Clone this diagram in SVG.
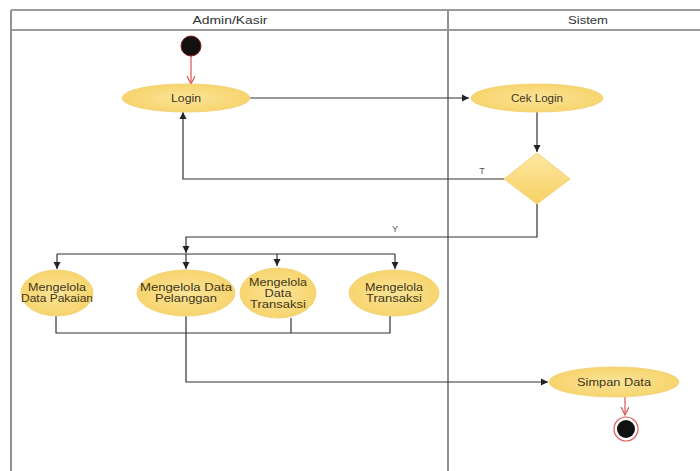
<svg xmlns="http://www.w3.org/2000/svg" width="700" height="471" viewBox="0 0 700 471">
<style>
.lane{fill:none;stroke:#222;stroke-width:1}
.hdr{fill:none;stroke:#9a9a9a;stroke-width:2}
.ht{font-family:"Liberation Sans",Arial,sans-serif;font-size:10px;fill:#333;text-anchor:middle}
.act{fill:url(#yg);stroke:#f3d47c;stroke-width:1}
.t{font-family:"Liberation Sans",Arial,sans-serif;font-size:10px;fill:#3f3618;text-anchor:middle}
.c{fill:none;stroke:#333;stroke-width:1.2}
.r{fill:none;stroke:#d9534f;stroke-width:1.2}
.lbl{font-family:"Liberation Sans",Arial,sans-serif;font-size:9px;fill:#555;text-anchor:middle}
</style>
<defs>
<radialGradient id="yg" cx="50%" cy="50%" r="60%">
<stop offset="0" stop-color="#fbe49a"/>
<stop offset="1" stop-color="#f6d164"/>
</radialGradient>
<linearGradient id="dg" x1="0" y1="0" x2="0" y2="1">
<stop offset="0" stop-color="#fde7a0"/>
<stop offset="1" stop-color="#f7d163"/>
</linearGradient>
<marker id="ab" markerWidth="8" markerHeight="8" refX="7" refY="4" orient="auto" markerUnits="userSpaceOnUse">
<path d="M0,0.5 L7,4 L0,7.5 Z" fill="#222"/>
</marker>
<marker id="ar" markerWidth="10" markerHeight="10" refX="8" refY="4" orient="auto" markerUnits="userSpaceOnUse">
<path d="M0,0 L8,4 L0,8" fill="none" stroke="#d9534f" stroke-width="1.2"/>
</marker>
</defs>
<rect width="700" height="471" fill="#fff"/>
<g id="lanes">
<line class="lane" x1="11" y1="10" x2="11" y2="471"/>
<line class="lane" x1="448" y1="10" x2="448" y2="471"/>
<line class="hdr" x1="11" y1="10" x2="700" y2="10"/>
<line class="hdr" x1="11" y1="30" x2="700" y2="30"/>
<text class="ht" x="230" y="24" textLength="75" lengthAdjust="spacingAndGlyphs">Admin/Kasir</text>
<text class="ht" x="588" y="24" textLength="40" lengthAdjust="spacingAndGlyphs">Sistem</text>
</g>
<g id="connectors">
<path class="r" d="M191,56 V84" marker-end="url(#ar)"/>
<path class="c" d="M250,98 H469" marker-end="url(#ab)"/>
<path class="c" d="M537,112 V152" marker-end="url(#ab)"/>
<path class="c" d="M504,179 H183 V112" marker-end="url(#ab)"/>
<text class="lbl" x="482" y="174">T</text>
<path class="c" d="M537,204 V237 H186 V253" marker-end="url(#ab)"/>
<text class="lbl" x="395" y="232">Y</text>
<path class="c" d="M57,254 H395"/>
<path class="c" d="M57,254 V269" marker-end="url(#ab)"/>
<path class="c" d="M186,254 V269" marker-end="url(#ab)"/>
<path class="c" d="M277,254 V266" marker-end="url(#ab)"/>
<path class="c" d="M395,254 V269" marker-end="url(#ab)"/>
<path class="c" d="M56,316 V333 H390 V316"/>
<path class="c" d="M291,318 V333"/>
<path class="c" d="M186,316 V382 H548" marker-end="url(#ab)"/>
<path class="r" d="M625,397 V415" marker-end="url(#ar)"/>
</g>
<g id="start">
<circle cx="191" cy="46" r="10" fill="#111" stroke="#8b1a1a" stroke-width="1"/>
</g>
<g id="login">
<ellipse class="act" cx="186" cy="98" rx="64" ry="14"/>
<text class="t" x="186" y="102" textLength="30" lengthAdjust="spacingAndGlyphs">Login</text>
</g>
<g id="ceklogin">
<ellipse class="act" cx="537" cy="98" rx="66" ry="14"/>
<text class="t" x="537" y="102" textLength="52" lengthAdjust="spacingAndGlyphs">Cek Login</text>
</g>
<g id="decision">
<polygon points="537,153 570,179 537,204 504,179" fill="url(#dg)" stroke="#f3d47c" stroke-width="1"/>
</g>
<g id="pakaian">
<ellipse class="act" cx="57" cy="293" rx="36" ry="23"/>
<text class="t" x="57" y="291" textLength="58" lengthAdjust="spacingAndGlyphs">Mengelola</text>
<text class="t" x="57" y="302" textLength="72" lengthAdjust="spacingAndGlyphs">Data Pakaian</text>
</g>
<g id="pelanggan">
<ellipse class="act" cx="186" cy="293" rx="49" ry="23"/>
<text class="t" x="186" y="291" textLength="92" lengthAdjust="spacingAndGlyphs">Mengelola Data</text>
<text class="t" x="186" y="302" textLength="62" lengthAdjust="spacingAndGlyphs">Pelanggan</text>
</g>
<g id="datatransaksi">
<ellipse class="act" cx="278" cy="293" rx="38" ry="25"/>
<text class="t" x="278" y="286" textLength="58" lengthAdjust="spacingAndGlyphs">Mengelola</text>
<text class="t" x="278" y="297" textLength="27" lengthAdjust="spacingAndGlyphs">Data</text>
<text class="t" x="278" y="308" textLength="56" lengthAdjust="spacingAndGlyphs">Transaksi</text>
</g>
<g id="transaksi">
<ellipse class="act" cx="394" cy="293" rx="45" ry="23"/>
<text class="t" x="394" y="291" textLength="58" lengthAdjust="spacingAndGlyphs">Mengelola</text>
<text class="t" x="394" y="302" textLength="56" lengthAdjust="spacingAndGlyphs">Transaksi</text>
</g>
<g id="simpan">
<ellipse class="act" cx="614" cy="382" rx="65" ry="15"/>
<text class="t" x="614" y="386" textLength="74" lengthAdjust="spacingAndGlyphs">Simpan Data</text>
</g>
<g id="end">
<circle cx="626" cy="429" r="12" fill="#fff" stroke="#e05a5a" stroke-width="1.2"/>
<circle cx="626" cy="429" r="9" fill="#111"/>
</g>
</svg>
